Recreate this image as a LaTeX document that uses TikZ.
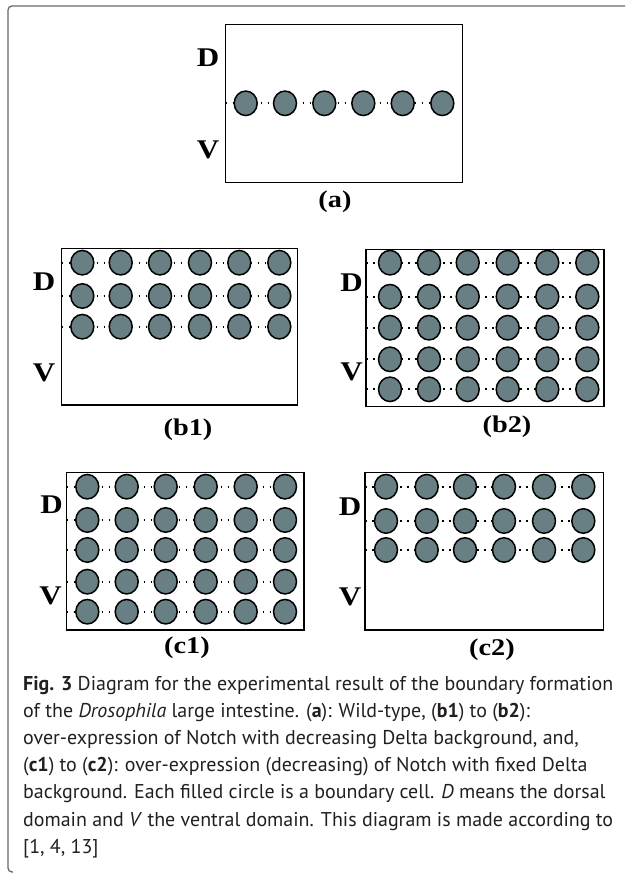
\documentclass[tikz,border=0pt]{standalone}
\usepackage{fontspec}
\setmainfont{Liberation Serif}
\newfontfamily\capfont{PT Sans}
\usetikzlibrary{shapes.geometric}
\definecolor{cellfill}{RGB}{104,128,132}
\definecolor{framegray}{RGB}{105,105,105}
\definecolor{captext}{RGB}{35,31,32}
\newlength\capw
\newcommand\capsel{\fontsize{\capsize pt}{\capsize pt}\capfont}
\tikzset{
  cell/.style={ellipse, draw=black, line width=1.5pt, fill=cellfill,
    minimum width=23pt, minimum height=24.5pt, inner sep=0pt},
  dotrow/.style={line width=1.7pt, dash pattern=on 1.7pt off 5.3pt},
  panel/.style={draw=black, line width=1.4pt},
  dvlab/.style={font=\fontsize{27}{27}\selectfont\bfseries, inner sep=0pt, xscale=1.15, transform shape},
  plab/.style={font=\fontsize{24}{24}\selectfont\bfseries, inner sep=0pt, xscale=1.18, transform shape},
  capline/.style={anchor=base west, inner sep=0pt, font=\capsel, text=captext},
}
\begin{document}
\settowidth\capw{\fontsize{10pt}{12pt}\capfont\textbf{Fig. 3} Diagram for the experimental result of the boundary formation}%
\pgfmathsetmacro\capsize{10*590/\capw}%
\begin{tikzpicture}[x=1pt, y=-1pt]
\useasboundingbox (0,0) rectangle (625,874);

% outer frame
\draw[framegray, line width=1.3pt, rounded corners=4pt] (625,6) -| (8,872) -- (13,872);

% ---------- panel (a)
\draw[panel] (225.7,24.7) rectangle (462.7,182.7);
\coordinate (a-s1) at (225.7,103.3);
\coordinate (a-e1) at (442.3,103.3);
\draw[dotrow] (a-s1) -- (a-e1);
\foreach \x [count=\i] in {245.7,285,324.3,363.3,402.7,442.3}
  \node[cell] (a-1-\i) at (\x,103.3) {};
\node[dvlab] (a-D) at (208,58) {D};
\node[dvlab] (a-V) at (208,150) {V};
\node[plab] (a-lab) at (335,202) {(a)};

% ---------- panel (b1)
\draw[panel] (61.7,248.3) rectangle (297.3,405);
\foreach \y [count=\j] in {262.7,296,326.7}{
  \coordinate (b1-s\j) at (61.7,\y);
  \coordinate (b1-e\j) at (279.3,\y);
  \draw[dotrow] (b1-s\j) -- (b1-e\j);
  \foreach \x [count=\i] in {82.3,120.7,160,200,239.3,279.3}
    \node[cell] (b1-\j-\i) at (\x,\y) {};
}
\node[dvlab] (b1-D) at (44,282) {D};
\node[dvlab] (b1-V) at (44,373) {V};
\node[plab] (b1-lab) at (188,430) {(b1)};

% ---------- panel (b2)
\draw[panel] (366,249.3) rectangle (604,406.7);
\foreach \y [count=\j] in {262.7,296.7,327.7,359.3,389.3}{
  \coordinate (b2-s\j) at (366,\y);
  \coordinate (b2-e\j) at (587.3,\y);
  \draw[dotrow] (b2-s\j) -- (b2-e\j);
  \foreach \x [count=\i] in {390,429,467.7,507.7,547.3,587.3}
    \node[cell] (b2-\j-\i) at (\x,\y) {};
}
\node[dvlab] (b2-D) at (351.7,283) {D};
\node[dvlab] (b2-V) at (351.7,372) {V};
\node[plab] (b2-lab) at (507,427) {(b2)};

% ---------- panel (c1)
\draw[panel] (66.7,472.7) rectangle (304,630);
\foreach \y [count=\j] in {486.7,520,550,581.7,611.7}{
  \coordinate (c1-s\j) at (66.7,\y);
  \coordinate (c1-e\j) at (285,\y);
  \draw[dotrow] (c1-s\j) -- (c1-e\j);
  \foreach \x [count=\i] in {87.3,126.7,165.7,205.7,245.7,285}
    \node[cell] (c1-\j-\i) at (\x,\y) {};
}
\node[dvlab] (c1-D) at (51.5,505) {D};
\node[dvlab] (c1-V) at (50.5,596) {V};
\node[plab] (c1-lab) at (187,648) {(c1)};

% ---------- panel (c2)
\draw[panel] (365,472.3) rectangle (603.3,630);
\foreach \y [count=\j] in {486.7,521,550}{
  \coordinate (c2-s\j) at (365,\y);
  \coordinate (c2-e\j) at (583.3,\y);
  \draw[dotrow] (c2-s\j) -- (c2-e\j);
  \foreach \x [count=\i] in {386,426.7,465,504,544,583.3}
    \node[cell] (c2-\j-\i) at (\x,\y) {};
}
\node[dvlab] (c2-D) at (350,507) {D};
\node[dvlab] (c2-V) at (350,597) {V};
\node[plab] (c2-lab) at (492,650) {(c2)};

% ---------- caption
\node[capline] (cap1) at (23,690) {\textbf{Fig. 3} Diagram for the experimental result of the boundary formation};
\node[capline] (cap2) at (23,717.2) {of the \textit{Drosophila} large intestine. (\textbf{a}): Wild-type, (\textbf{b1}) to (\textbf{b2}):};
\node[capline] (cap3) at (23,744.4) {over-expression of Notch with decreasing Delta background, and,};
\node[capline] (cap4) at (23,771.6) {(\textbf{c1}) to (\textbf{c2}): over-expression (decreasing) of Notch with fixed Delta};
\node[capline] (cap5) at (23,798.8) {background. Each filled circle is a boundary cell. \textit{D} means the dorsal};
\node[capline] (cap6) at (23,826) {domain and \textit{V} the ventral domain. This diagram is made according to};
\node[capline] (cap7) at (23,853.2) {[1, 4, 13]};
\end{tikzpicture}
\end{document}
